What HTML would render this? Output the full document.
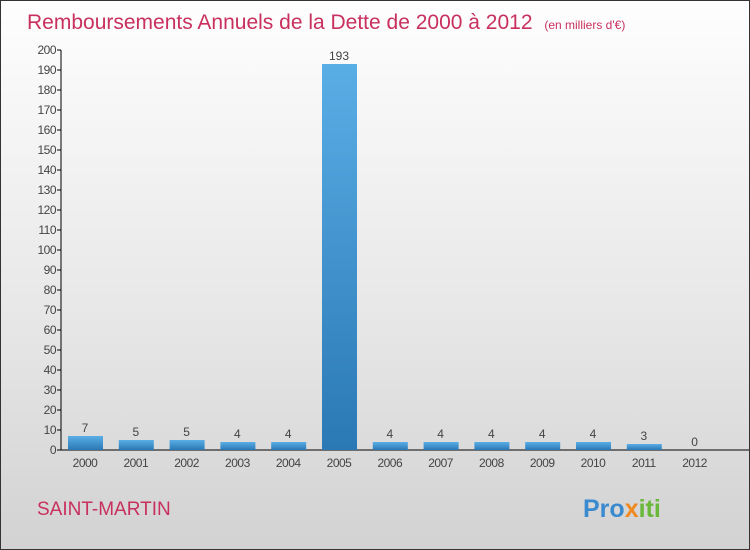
<!DOCTYPE html>
<html><head><meta charset="utf-8"><style>
body{margin:0}
#c{width:750px;height:550px;position:relative;box-sizing:border-box;border:1px solid #333;background:linear-gradient(#fefefe,#e6e6e6 60%,#d2d2d2);font-family:"Liberation Sans",sans-serif;overflow:hidden}
</style></head><body>
<div id="c">
<svg id="s" width="748" height="548" style="position:absolute;left:0;top:0">
<defs><linearGradient id="g" x1="0" y1="0" x2="0" y2="1"><stop offset="0" stop-color="#5aaee6"/><stop offset="1" stop-color="#2a78b4"/></linearGradient></defs>
<text x="26" y="28" font-size="21" fill="#c8305e">Remboursements Annuels de la Dette de 2000 à 2012 <tspan font-size="12" dx="6">(en milliers d'€)</tspan></text>
<text x="36" y="514" font-size="19" fill="#c8305e">SAINT-MARTIN</text>
<text x="582" y="516" font-size="25" font-weight="bold" fill="#3a8ad0">Pro<tspan fill="#f08a20">x</tspan><tspan fill="#6ab83a">iti</tspan></text>
<g id="plot"></g>
</svg>
</div>
<script>
const categories=["2000","2001","2002","2003","2004","2005","2006","2007","2008","2009","2010","2011","2012"];
const values=[7,5,5,4,4,193,4,4,4,4,4,3,0];
const ticks=[0,10,20,30,40,50,60,70,80,90,100,110,120,130,140,150,160,170,180,190,200];
const ns="http://www.w3.org/2000/svg";
const g=document.getElementById('plot');
const y=v=>449-v*2, x=i=>84+i*50.8;
function mk(t,a){const e=document.createElementNS(ns,t);for(const k in a)e.setAttribute(k,a[k]);g.appendChild(e);return e;}
let ax=mk('line',{x1:60,y1:49,x2:60,y2:449,stroke:'#000'});


let bx=mk('line',{x1:60,y1:449,x2:748,y2:449,stroke:'#000'});


ticks.forEach(t=>{
 let l=mk('line',{x1:56,y1:y(t),x2:60,y2:y(t),stroke:'#000'});
 
 
 let tx=mk('text',{x:55,y:y(t)+4,'font-size':12,'text-anchor':'end',fill:'#444','letter-spacing':'-0.5'});
 tx.textContent=t;
 
 
});
categories.forEach((c,i)=>{
 const v=values[i];
 if(v>0){let r=mk('rect',{x:x(i)-17,y:y(v),width:35,height:v*2,fill:'url(#g)'});
 
 }
 let vl=mk('text',{x:x(i),y:y(v)-4,'font-size':12,'text-anchor':'middle',fill:'#444'});
 vl.textContent=v;
 
 
 let cl=mk('text',{x:x(i),y:466,'font-size':12,'text-anchor':'middle',fill:'#444','letter-spacing':'-0.5'});
 cl.textContent=c;
 
 
});
</script>
</body></html>
